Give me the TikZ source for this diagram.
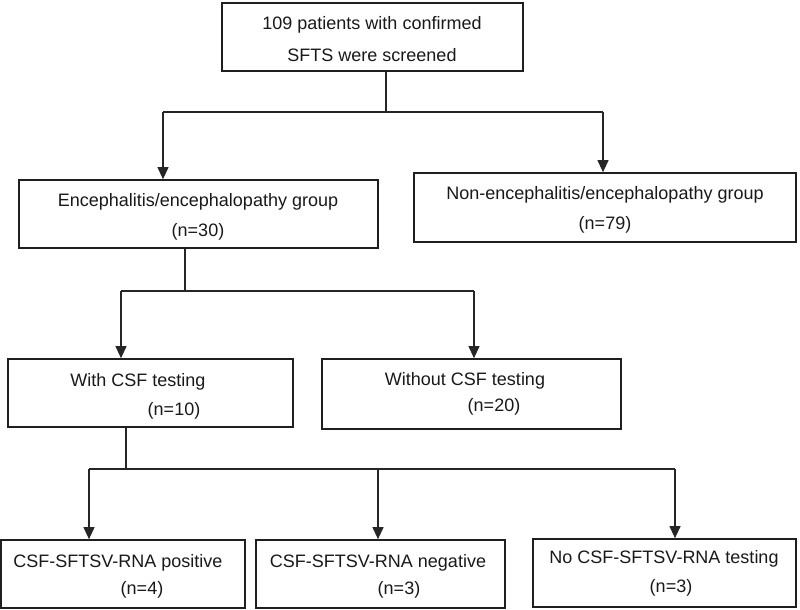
\documentclass[tikz,border=0pt]{standalone}
\usepackage{fontspec}
\setmainfont{Liberation Sans}
\usetikzlibrary{arrows.meta}
\begin{document}
\begin{tikzpicture}[x=1pt,y=-1pt,
  box/.style={draw=black!88,line width=1.7pt,rectangle,inner sep=0pt},
  lbl/.style={inner sep=0pt,anchor=center,font=\fontsize{18}{20}\selectfont,text=black!90},
  conn/.style={draw=black!85,line width=1.1pt},
  arr/.style={conn,-{Triangle[length=12pt,width=11pt]}}]
\useasboundingbox (0,0) rectangle (800,610);
% boxes
\node[box,minimum width=301pt,minimum height=68pt] (top) at (372.5,37) {};
\node[box,minimum width=359pt,minimum height=68pt] (enc) at (198.5,214) {};
\node[box,minimum width=382pt,minimum height=69pt] (non) at (605,207.5) {};
\node[box,minimum width=285pt,minimum height=68pt] (with) at (150.5,393) {};
\node[box,minimum width=299pt,minimum height=70pt] (without) at (471.5,394) {};
\node[box,minimum width=244pt,minimum height=68pt] (pos) at (123,574) {};
\node[box,minimum width=249pt,minimum height=68pt] (neg) at (380.5,574) {};
\node[box,minimum width=263pt,minimum height=68pt] (notest) at (664.5,573) {};
% texts
\node[lbl] (t1) at (372,25) {109 patients with confirmed};
\node[lbl] (t2) at (372,55) {SFTS were screened};
\node[lbl] (e1) at (198,202) {Encephalitis/encephalopathy group};
\node[lbl] (e2) at (198,232) {(n=30)};
\node[lbl] (n1) at (605,195) {Non-encephalitis/encephalopathy group};
\node[lbl] (n2) at (605,225) {(n=79)};
\node[lbl] (w1) at (138,382) {With CSF testing};
\node[lbl] (w2) at (174,411) {(n=10)};
\node[lbl] (o1) at (465,381) {Without CSF testing};
\node[lbl] (o2) at (494,407) {(n=20)};
\node[lbl] (p1) at (118,563) {CSF-SFTSV-RNA positive};
\node[lbl] (p2) at (142,590) {(n=4)};
\node[lbl] (g1) at (378,563) {CSF-SFTSV-RNA negative};
\node[lbl] (g2) at (399,590) {(n=3)};
\node[lbl] (q1) at (664,559) {No CSF-SFTSV-RNA testing};
\node[lbl] (q2) at (671,588) {(n=3)};
% junctions
\coordinate (j1) at (386,112);
\coordinate (b1l) at (163,112);
\coordinate (b1r) at (603,112);
\coordinate (j2) at (185,291);
\coordinate (b2l) at (121,291);
\coordinate (b2r) at (474,291);
\coordinate (j3) at (126,469);
\coordinate (b3l) at (89,469);
\coordinate (b3m) at (378,469);
\coordinate (b3r) at (675,469);
% connectors
\draw[conn] (top.south -| j1) -- (j1);
\draw[conn] (b1l) -- (b1r);
\draw[arr] (b1l) -- (b1l |- enc.north);
\draw[arr] (b1r) -- (b1r |- non.north);
\draw[conn] (enc.south -| j2) -- (j2);
\draw[conn] (b2l) -- (b2r);
\draw[arr] (b2l) -- (b2l |- with.north);
\draw[arr] (b2r) -- (b2r |- without.north);
\draw[conn] (with.south -| j3) -- (j3);
\draw[conn] (b3l) -- (b3r);
\draw[arr] (b3l) -- (b3l |- pos.north);
\draw[arr] (b3m) -- (b3m |- neg.north);
\draw[arr] (b3r) -- (b3r |- notest.north);
\end{tikzpicture}
\end{document}
